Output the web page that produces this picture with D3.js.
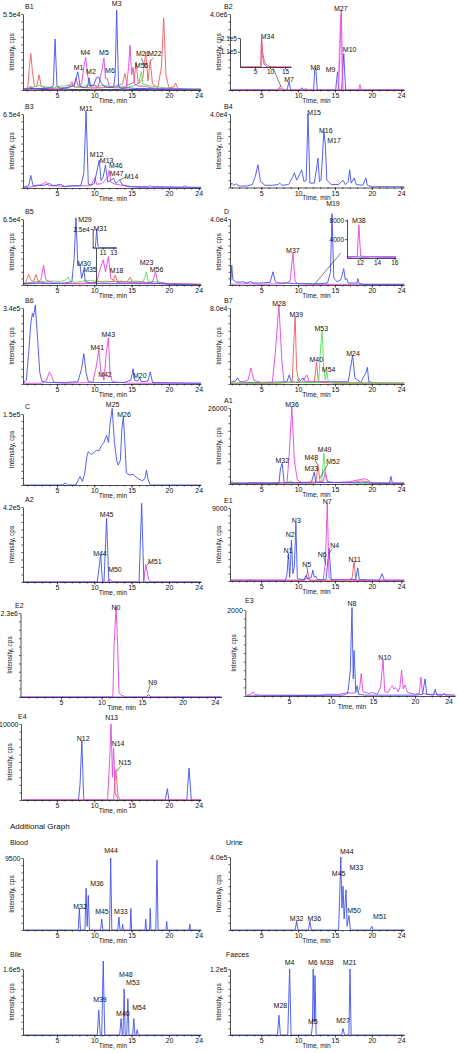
<!DOCTYPE html>
<html><head><meta charset="utf-8">
<script src="https://cdn.jsdelivr.net/npm/d3@7"></script>
<style>body{margin:0;background:#fff}svg text{font-family:Arial,"Liberation Sans",sans-serif;fill:#111}</style>
</head><body><svg id="c" width="458" height="1053"></svg>
<script>
// ---------------- DATA (time in min, intensity in % of the top tick) ----------------
const xTickLabels = [5,10,15,20,24];
const yTopLabels = {B1:"5.5e4",B2:"4.0e6",B3:"6.5e4",B4:"4.0e4",B5:"6.5e4",D:"4.0e4",B6:"3.4e5",B7:"8.0e4",C:"1.5e5",A1:"26000",A2:"4.2e5",E1:"9000",E2:"2.3e6",E3:"2000",E4:"10000",Blood:"9500",Urine:"4.0e5",Bile:"1.6e5",Faeces:"1.2e5"};

const B1_red=[[0.5,1],[1.1,3],[1.3,30],[1.5,48],[1.7,25],[2.0,4],[2.3,5],[2.6,20],[2.9,5],[3.5,2],[6.3,3],[6.8,8],[7.0,11],[7.3,4],[9,3],[10,3],[11,3],[12.5,4],[13.8,8],[14.1,22],[14.4,6],[15.3,10],[15.6,37],[15.9,8],[16.5,15],[16.9,50],[17.2,12],[17.5,39],[17.8,8],[18.5,3],[19.0,30],[19.3,95],[19.6,20],[20.0,3],[20.7,4],[20.9,9],[21.2,2],[22,1],[24.3,1]];
const B1_green=[[0.5,1],[1.5,3],[2.5,6],[3.5,4],[4.5,3],[5.5,5],[6.5,6],[7.5,4],[8.5,5],[9.5,7],[10.5,5],[11.5,6],[12.5,4],[13.5,5],[14.5,4],[15.5,6],[16.0,10],[16.3,24],[16.5,8],[17.5,5],[18.5,4],[19.5,3],[21,2],[24.3,1]];
const B1_mag=[[0.5,0],[2,1],[3,2],[5,1],[6.5,3],[7.0,8],[7.3,5],[7.55,16],[7.8,6],[8.3,8],[8.6,30],[8.85,43],[9.1,20],[9.4,5],[10,6],[10.5,3],[11.0,25],[11.3,42],[11.5,15],[11.75,15],[12.0,5],[12.5,3],[13.5,3],[14.3,3],[14.6,30],[14.8,59],[15.0,20],[15.2,30],[15.4,8],[16,5],[16.8,5],[17.5,3],[18.5,2],[20,2],[24.3,0]];
const B1_blue=[[0.5,1],[1.2,2],[1.5,5],[1.8,2],[3,2],[4,3],[4.5,5],[4.75,67],[5.0,5],[5.5,2],[6.5,3],[7.3,6],[7.8,24],[8.1,5],[8.6,3],[9.1,4],[9.3,16],[9.5,5],[9.9,6],[10.3,16],[10.6,17],[10.9,10],[11.3,5],[12.0,3],[12.6,4],[12.8,20],[13.0,105],[13.25,5],[13.6,2],[14.5,3],[15.5,2],[17,2],[19,1],[24.3,1]];
const B1_dark=[[0.5,0],[1.5,2],[2.5,1],[4,0.5],[6,1],[8,0.5],[10,1],[12,0.5],[14,1],[16,0.5],[18,1],[20,0.3],[24.3,0]];
const B1_labels=[["M3",13.0,114],["M4",8.8,49.6],["M5",11.3,49],["M1",7.9,30],["M2",9.55,24],["M6",12.1,26],["M21",16.5,47.4],["M22",18.1,47.4],["M55",16.35,31.6]];
const B1_leaders=[[16.3,42,16.85,30],[17.9,42,17.5,38]];

const B2_red=[[0.8,0],[7.2,0],[7.6,5],[8.0,1],[8.4,0],[24.4,0]];
const B2_blue=[[0.8,0],[7.3,0],[7.6,2],[7.9,0],[8.5,0],[8.77,11],[9.0,0],[10.3,0],[10.5,3],[10.8,0],[11.0,2],[11.3,0],[12.1,0],[12.25,25],[12.4,29],[12.6,0],[15.1,0],[15.35,24],[15.55,0],[15.9,0],[16.2,48],[16.45,0],[24.4,0]];
const B2_pink=[[15.4,0],[15.75,100],[16.0,0]];
const B2_mag=[[0.8,0],[15.5,0],[15.86,105],[16.1,0],[18.2,0],[18.4,7],[18.6,0],[24.4,0]];
const B2_labels=[["M27",15.8,107],["M10",17.0,53],["M9",14.4,27],["M8",12.33,30],["M7",8.77,14]];
const B2_in_red=[[0,0],[6.9,0],[7.1,80],[7.2,100],[7.5,55],[8,25],[8.5,10],[9.5,2],[11,0],[17,0]];
const B2_in_mag=[[0,0],[7.0,0],[7.2,95],[7.45,40],[8,10],[9,0],[17,0]];

const B3_blue=[[0.5,1],[1.2,3],[1.5,17],[1.8,3],[2.5,4],[3,3],[4,6],[4.5,3],[5.5,5],[6,2],[7,3],[8.2,3],[8.6,20],[8.9,104],[9.2,5],[9.6,4],[10.0,6],[10.4,25],[10.67,38],[10.9,10],[11.2,15],[11.5,31],[11.8,8],[12.1,10],[12.6,13],[12.9,6],[13.4,11],[13.8,4],[14.5,2],[16,1],[24.3,1]];
const B3_mag=[[0.5,0],[2.5,3],[3.2,6],[3.5,8.5],[3.9,3],[5,3],[6,2],[7.5,3],[9.5,3],[9.9,10],[10.1,14],[10.3,5],[11.0,6],[11.8,14],[12.0,24],[12.2,8],[12.8,5],[13.5,4],[15,2],[17.3,2],[17.5,4],[17.7,2],[21.8,1],[22.1,3],[22.4,1],[24.3,0]];
const B3_labels=[["M11",8.9,108],["M12",10.32,45.5],["M13",11.66,36.5],["M46",12.9,30],["M47",13.0,19],["M14",15.0,15.3]];
const B3_leaders=[[14.25,15,13.44,11]];

const B4_blue=[[0.8,2],[1.0,6],[1.3,3],[1.6,5],[2.0,2],[3,2],[3.8,4],[4.2,15],[4.55,31],[4.9,8],[5.5,3],[6.5,3],[7.3,4],[7.5,6],[7.8,3],[8.7,4],[9.3,15],[9.5,20],[9.8,10],[10.2,18],[10.5,24],[10.8,8],[11.1,10],[11.34,100],[11.6,6],[12.2,6],[12.5,25],[12.7,40],[12.9,8],[13.1,10],[13.3,40],[13.5,76],[13.7,58],[13.9,10],[14.5,4],[15.5,4],[16.1,10],[16.4,4],[16.8,8],[17.0,24],[17.2,6],[17.6,13],[17.9,4],[18.8,3],[19.2,13],[19.4,3],[20,1],[24.4,1]];
const B4_labels=[["M15",12.16,102],["M16",13.75,78],["M17",14.87,64]];

const B5_green=[[0.5,3],[1.5,4],[2.5,6],[3.5,5],[4.5,6],[5.5,5],[6.2,8],[6.5,12],[6.8,5],[7.5,4],[8.5,6],[9.5,7],[10.5,5],[11.5,6],[12.5,5],[13.5,6],[14.5,5],[15.5,6],[16.5,5],[16.8,12],[17.0,20],[17.2,6],[18,5],[19,4],[20,2],[24.3,1]];
const B5_red=[[0.5,1],[0.9,6],[1.2,16],[1.5,8],[1.8,5],[2.2,16],[2.5,5],[3.5,3],[6,2],[9.8,3],[10.5,6],[11,4],[12.5,5],[12.8,15],[13.1,5],[14.4,5],[14.8,12],[15.1,4],[16.5,5],[17.3,3],[19,2],[24.3,1]];
const B5_mag=[[0.5,1],[2.5,3],[2.9,10],[3.2,30],[3.5,8],[4.5,3],[6,2],[9,2],[10.3,4],[10.8,25],[11.2,38],[11.5,20],[11.9,43],[12.2,10],[13,4],[14,3],[15,4],[16,3],[17.8,4],[18.2,20],[18.5,4],[20,2],[24.3,1]];
const B5_blue=[[0.5,2],[2,3],[4,2],[6,3],[7.0,5],[7.3,40],[7.55,102],[7.8,30],[8.1,30],[8.3,10],[8.6,23],[8.8,5],[9.5,3],[11,2],[14,2],[17,2],[19,2],[20,1],[24.3,0]];
const B5_labels=[["M29",8.75,99.5],["M30",8.62,32],["M35",9.42,24],["M18",13.0,22],["M23",17.0,34],["M56",18.35,24]];
const B5_in_blue=[[9.1,0],[9.6,0],[9.87,100],[10.1,5],[10.4,0],[13.6,0]];

const D_mag=[[0.8,1],[3,2],[5,1],[8,2],[8.9,5],[9.3,48],[9.6,5],[10,2],[12,1],[16,1],[24.4,1]];
const D_blue=[[0.8,3],[0.9,10],[1.0,30],[1.15,8],[1.5,5],[2,4],[2.5,5],[3,3],[3.5,5],[4,3],[5,3],[6.2,4],[6.6,20],[6.9,5],[7.5,3],[8.5,3],[9.5,2],[10.5,2],[12,2],[13,2],[14,3],[14.4,20],[14.6,108],[14.85,10],[15.3,5],[15.8,8],[16.2,25],[16.4,8],[16.6,10],[16.8,3],[17.5,3],[18.0,3],[18.1,10],[18.3,2],[19,1],[24.4,1]];
const D_labels=[["M19",14.73,123],["M37",9.3,52]];
const D_in_blue=[[10.5,150],[11.5,250],[12.5,150],[13.5,250],[14.5,150],[16.2,150]];
const D_in_mag=[[10.5,300],[11.7,300],[11.9,7000],[12.1,400],[13,300],[16.2,300]];

const B6_mag=[[0.5,1],[3,1],[3.6,5],[4.0,16],[4.3,10],[4.6,2],[6,1],[9.8,2],[10.3,25],[10.6,45],[10.9,15],[11.1,12],[11.3,5],[11.6,40],[11.9,61],[12.1,15],[12.4,3],[13.5,2],[15,1],[24.3,1]];
const B6_blue=[[0.5,2],[0.9,5],[1.2,40],[1.5,80],[1.7,93],[1.85,88],[2.1,104],[2.4,60],[2.7,15],[3.0,3],[4,2],[6,2],[7.8,3],[8.3,20],[8.6,40],[8.9,15],[9.2,3],[10,2],[14,2],[14.9,5],[15.2,20],[15.4,5],[15.8,4],[16.1,8],[16.3,3],[17.2,4],[17.5,16],[17.8,2],[24.3,1]];
const B6_labels=[["M41",10.4,48],["M43",11.87,65],["M42",11.43,12],["M20",16.1,11]];

const B7_blue=[[0.8,2],[1.5,4],[1.8,8],[2.1,3],[3,2],[5,2],[8.5,3],[8.8,12],[9.1,3],[10,2],[10.7,8],[11.0,3],[16.8,3],[17.1,20],[17.4,38],[17.7,8],[18.5,2],[19.2,15],[19.4,22],[19.6,3],[20.5,1],[24.4,1]];
const B7_mag=[[0.8,1],[2,1],[3.2,5],[3.6,21],[4.0,5],[5,2],[6.5,2],[6.9,40],[7.4,104],[7.8,30],[8.1,2],[9,2],[10.5,2],[11.2,12],[11.5,3],[13,2],[16,1],[24.4,1]];
const B7_red=[[0.8,1],[6,1],[7.5,1],[9.2,3],[9.45,60],[9.6,89],[9.8,20],[10.1,2],[12.2,3],[12.5,29],[12.75,3],[14,2],[24.4,1]];
const B7_green=[[0.8,1],[6,1],[9.8,2],[10.1,8],[10.4,2],[12.8,2],[13.0,40],[13.25,71],[13.5,20],[13.7,5],[13.9,16],[14.1,3],[15,1],[24.4,1]];
const B7_labels=[["M28",7.41,106],["M39",9.76,91],["M53",13.15,73],["M40",12.47,32.5],["M54",14.15,19.5],["M24",17.45,40.5]];

const C_blue=[[0.45,0],[5.8,0],[6.1,3],[6.4,0],[7.5,0],[7.9,8],[8.1,12],[8.4,5],[8.7,15],[9.0,40],[9.2,47],[9.6,43],[10.0,46],[10.3,49],[10.6,48],[11.0,56],[11.3,60],[11.65,70],[11.9,60],[12.1,85],[12.4,108],[12.7,60],[13.0,35],[13.2,28],[13.5,35],[13.7,80],[13.9,96],[14.1,60],[14.3,17],[14.7,14],[15.2,15],[15.6,11],[16.0,8],[16.5,6],[16.8,10],[17.0,21],[17.2,8],[17.5,0],[24.3,0]];
const C_labels=[["M25",12.46,113],["M26",13.98,99]];

const A1_green=[[0.8,2],[1,4],[1.2,1],[8.6,2],[9,4],[9.3,2],[13.2,2],[13.5,40],[13.8,5],[14.5,2],[17,2],[24.4,1]];
const A1_red=[[0.8,1],[12.4,1],[12.7,25],[13.0,2],[17.5,2],[18.5,4],[19.5,3],[20,1],[24.4,1]];
const A1_mag=[[0.8,1],[3,1],[4,2],[6,1],[8.5,2],[8.8,40],[9.15,102],[9.5,30],[9.9,5],[10.5,2],[13.4,3],[13.7,16],[14.0,3],[15,2],[17,3],[18,5],[19,7],[19.5,5],[20,1],[24.4,1]];
const A1_blue=[[0.8,1],[7.4,1],[7.6,20],[7.85,27],[8.1,2],[11.8,2],[12.2,16],[12.4,2],[22.4,1],[22.6,10],[22.8,1],[24.4,1]];
const A1_labels=[["M36",9.17,105],["M32",7.86,30.5],["M48",11.79,35],["M49",13.6,44.7],["M33",11.79,20.7],["M52",14.74,29.3]];
const A1_leaders=[[12.3,31.6,12.7,25],[14.06,26.3,12.97,8]];

const A2_blue=[[0.45,0],[10.4,0],[10.85,36],[11.1,0],[11.3,0],[11.65,85],[11.95,0],[16.0,0],[16.35,105],[16.65,0],[24.3,0]];
const A2_mag=[[0.45,0],[11.8,0],[12.1,4],[12.5,0],[16.6,0],[16.9,23],[17.3,3],[17.6,0],[24.3,0]];
const A2_labels=[["M45",11.66,89.5],["M44",10.76,38.5],["M50",12.77,16],["M51",18.1,27]];
const A2_leaders=[[17.5,26.7,16.95,22]];

const E1_red=[[0.8,1],[11.0,1],[11.3,13],[11.6,1],[17.3,1],[17.6,27],[17.85,1],[24.4,1]];
const E1_blue=[[0.8,1],[8.3,1],[8.5,10],[8.7,38],[8.85,5],[8.95,20],[9.1,56],[9.3,10],[9.5,20],[9.7,79],[9.9,3],[10.8,2],[11.1,8],[11.3,3],[11.8,5],[12.0,15],[12.2,5],[12.4,7],[12.6,2],[13.8,2],[14.2,45],[14.5,2],[17.8,2],[18.1,18],[18.3,2],[21.0,1],[21.4,10],[21.7,1],[24.4,1]];
const E1_mag=[[0.8,1],[3.3,1],[3.5,2],[3.7,1],[10.8,1],[11.2,5],[11.4,1],[13.4,1],[13.7,24],[13.96,106],[14.2,5],[14.5,1],[17.0,2],[17.2,4],[17.4,1],[24.4,1]];
const E1_labels=[["N1",8.63,41.5],["N2",8.94,64],["N3",9.76,82.6],["N7",13.96,109],["N4",14.97,48],["N6",13.28,36.6],["N5",11.17,23],["N11",17.68,30]];
const E1_leaders=[[8.6,36,8.7,30],[14.6,44,14.25,38],[13.5,33,13.75,22],[11.2,19,11.3,12]];

const E2_blue=[[0,0],[15.5,0],[15.8,3],[16.1,0],[24.8,0]];
const E2_mag=[[0,0],[11.4,0],[11.55,60],[11.8,108],[12.0,60],[12.15,5],[12.5,2],[13,0],[24.8,0]];
const E2_labels=[["N0",11.79,107],["N9",16.32,17.5]];
const E2_leaders=[[16.0,14,15.7,5]];

const E3_mag=[[0,1],[0.5,2],[0.7,5],[0.9,2],[1.5,1],[5,1],[9,1],[9.5,2],[11,2],[12.0,4],[12.5,3],[13.0,4],[13.4,8],[13.6,26],[13.8,5],[14.5,3],[15.0,4],[15.5,2],[15.9,10],[16.2,42],[16.4,5],[16.8,4],[17.1,10],[17.3,12],[17.5,8],[17.7,10],[18.0,5],[18.2,10],[18.4,30],[18.6,8],[18.8,13],[19.1,4],[20,2],[20.5,3],[20.7,22],[20.9,3],[21.5,2],[22.5,2],[23.5,2],[24.8,1]];
const E3_blue=[[0,0],[11.5,1],[12.0,3],[12.3,30],[12.5,103],[12.65,20],[12.75,53],[12.95,5],[13.1,12],[13.3,2],[14,1],[20,1],[20.9,2],[21.2,20],[21.4,2],[22.2,1],[22.4,8],[22.6,1],[23.3,1],[23.5,3],[23.7,0],[24.8,0]];
const E3_labels=[["N8",12.5,107],["N10",16.4,45]];

const E4_blue=[[0.45,0],[7.9,0],[8.1,20],[8.35,78],[8.6,0],[19.5,0],[19.8,15],[20.0,0],[22.4,0],[22.7,42],[23.0,0],[24.3,0]];
const E4_red=[[0.45,0],[12.6,0],[12.9,40],[13.2,5],[13.5,0],[24.3,0]];
const E4_mag=[[0.45,0],[11.8,0],[12.1,60],[12.25,100],[12.45,30],[12.6,68],[12.8,10],[13.2,0],[24.3,0]];
const E4_labels=[["N12",8.53,81],["N13",12.33,109],["N14",13.2,74],["N15",14.1,49]];
const E4_leaders=[[13.6,45,13.0,38]];

const Blood_blue=[[0.45,0],[7.85,0],[8.0,30],[8.15,0],[8.75,0],[8.9,58],[9.05,5],[9.2,48],[9.35,0],[10.85,0],[11.0,15],[11.15,0],[12.05,0],[12.2,100],[12.35,0],[13.15,0],[13.3,18],[13.45,0],[13.7,0],[13.8,8],[13.9,0],[14.8,0],[14.9,30],[15.0,0],[16.8,0],[16.9,15],[17.0,0],[17.4,0],[17.5,30],[17.6,0],[18.25,0],[18.4,97],[18.55,0],[19.6,0],[19.7,12],[19.8,0],[22.7,0],[22.8,8],[22.9,0],[24.3,0]];
const Blood_labels=[["M44",12.24,110],["M36",10.36,64],["M32",8.09,33],["M45",11.03,26],["M33",13.57,26]];
const Urine_blue=[[0.76,0],[9.6,0],[9.8,12],[10.0,0],[11.4,0],[11.6,12],[11.8,0],[15.5,0],[15.8,100],[15.95,30],[16.1,60],[16.25,15],[16.5,55],[16.65,5],[16.9,20],[17.1,0],[19.8,0],[20.0,5],[20.2,0],[24.4,0]];
const Urine_labels=[["M44",16.6,108],["M45",15.5,78],["M33",17.9,86],["M32",9.8,16],["M36",12.2,16],["M50",17.6,26],["M51",21.1,18]];
const Bile_blue=[[0.45,0],[10.4,0],[10.6,38],[10.8,0],[11.0,0],[11.2,112],[11.4,0],[13.4,0],[13.6,25],[13.75,0],[13.85,0],[14.0,70],[14.15,0],[14.35,0],[14.5,55],[14.65,0],[15.15,0],[15.3,25],[15.45,0],[15.6,0],[15.75,8],[15.9,0],[24.3,0]];
const Bile_labels=[["M39",10.76,53],["M48",14.24,91],["M53",15.18,80],["M40",13.84,33],["M54",16.0,41]];
const Faeces_blue=[[0.76,0],[7.2,0],[7.4,30],[7.6,0],[8.6,0],[8.85,100],[9.05,0],[11.8,0],[11.95,15],[12.05,100],[12.2,20],[12.3,90],[12.45,0],[15.9,0],[16.1,10],[16.3,0],[16.9,0],[17.05,100],[17.2,0],[24.4,0]];
const Faeces_labels=[["M4",8.85,110],["M6",12.0,110],["M38",13.9,110],["M5",12.0,20],["M28",7.6,45],["M21",17.0,110],["M27",16.1,22]];

// ---------------- LAYOUT ----------------
const COL={blue:"#4051ee",mag:"#e143e1",red:"#f05a5a",green:"#55e055",pink:"#f3a3f3",dark:"#23235a"};
const LX={L:23,R:201,t0:0.45,t1:24.3}, RX={L:230,R:404.2,t0:0.76,t1:24.4};
const panels=[
 {id:"B1",...LX,T:14,B:90,tr:[["dark",B1_dark],["red",B1_red],["green",B1_green],["mag",B1_mag],["blue",B1_blue]],lab:B1_labels,lead:B1_leaders},
 {id:"B2",...RX,T:14,B:90,tr:[["red",B2_red],["blue",B2_blue],["pink",B2_pink],["mag",B2_mag]],lab:B2_labels},
 {id:"B3",...LX,T:114,B:188,tr:[["mag",B3_mag],["blue",B3_blue]],lab:B3_labels,lead:B3_leaders},
 {id:"B4",...RX,T:114,B:187.5,tr:[["blue",B4_blue]],lab:B4_labels},
 {id:"B5",...LX,T:219,B:285,tr:[["green",B5_green],["red",B5_red],["mag",B5_mag],["blue",B5_blue]],lab:B5_labels},
 {id:"D",...RX,T:219,B:285,tr:[["mag",D_mag],["blue",D_blue]],lab:D_labels},
 {id:"B6",...LX,T:308,B:384,tr:[["mag",B6_mag],["blue",B6_blue]],lab:B6_labels},
 {id:"B7",...RX,T:308,B:384,tr:[["blue",B7_blue],["mag",B7_mag],["red",B7_red],["green",B7_green]],lab:B7_labels},
 {id:"C",...LX,T:414,B:485,tr:[["blue",C_blue]],lab:C_labels},
 {id:"A1",...RX,T:408,B:484,tr:[["green",A1_green],["red",A1_red],["mag",A1_mag],["blue",A1_blue]],lab:A1_labels,lead:A1_leaders},
 {id:"A2",...LX,T:507,B:582,tr:[["mag",A2_mag],["blue",A2_blue]],lab:A2_labels,lead:A2_leaders},
 {id:"E1",...RX,T:508,B:581,tr:[["red",E1_red],["blue",E1_blue],["mag",E1_mag]],lab:E1_labels,lead:E1_leaders},
 {id:"E2",L:20.5,R:221.4,t0:0,t1:24.8,T:613,B:697,tr:[["blue",E2_blue],["mag",E2_mag]],lab:E2_labels,lead:E2_leaders,titleX:15},
 {id:"E3",L:245.3,R:455,t0:-0.2,t1:24.76,T:610,B:696,tr:[["mag",E3_mag],["blue",E3_blue]],lab:E3_labels,titleX:245,titleY:601},
 {id:"E4",L:21,R:201,t0:0.2,t1:24.3,T:724,B:800,tr:[["blue",E4_blue],["red",E4_red],["mag",E4_mag]],lab:E4_labels,lead:E4_leaders,titleX:18},
 {id:"Blood",...LX,T:858,B:930,tr:[["blue",Blood_blue]],lab:Blood_labels,titleX:10,titleY:843},
 {id:"Urine",...RX,T:857,B:930,tr:[["blue",Urine_blue]],lab:Urine_labels,titleX:226,titleY:843},
 {id:"Bile",...LX,T:969,B:1035,tr:[["blue",Bile_blue]],lab:Bile_labels,titleX:10,titleY:955},
 {id:"Faeces",...RX,T:969,B:1035,tr:[["blue",Faeces_blue]],lab:Faeces_labels,titleX:226,titleY:955}
];

const svg=d3.select("#c");
const FS=7;

function drawPanel(p){
  const g=svg.append("g");
  const x=d3.scaleLinear([p.t0,p.t1],[p.L,p.R]);
  const y=d3.scaleLinear([0,100],[p.B,p.T]);
  p.x=x;p.y=y;
  const line=d3.line().x(d=>x(d[0])).y(d=>y(d[1]));
  p.tr.forEach(([c,d])=>g.append("path").attr("d",line(d)).attr("fill","none").attr("stroke",COL[c]).attr("stroke-width",0.9).attr("stroke-linejoin","round"));
  const ax=g.append("g").attr("transform",`translate(0,${p.B})`);
  ax.call(d3.axisBottom(x).tickValues(d3.range(1,25)).tickSize(1.5).tickSizeOuter(0).tickFormat(""));
  const ax2=g.append("g").attr("transform",`translate(0,${p.B})`);
  ax2.call(d3.axisBottom(x).tickValues(xTickLabels).tickSize(2.5).tickPadding(1).tickSizeOuter(0).tickFormat(d3.format("d")));
  ax2.select(".domain").remove();
  const ay=g.append("g").attr("transform",`translate(${p.L},0)`);
  ay.call(d3.axisLeft(y).tickValues(d3.range(0,101,10)).tickSize(1.5).tickSizeOuter(0).tickFormat(d=>d===100?yTopLabels[p.id]:"").tickPadding(1));
  [ax,ax2,ay].forEach(a=>{a.selectAll("path,line").attr("stroke","#222").attr("stroke-width",0.8);a.selectAll("text").attr("font-size",FS).attr("fill","#111").attr("font-family","Arial, Liberation Sans, sans-serif");});
  g.append("text").attr("x",x(12.5)).attr("y",p.B+12.5).attr("text-anchor","middle").attr("font-size",6.5).text("Time, min");
  g.append("text").attr("transform",`translate(${p.L-9},${(p.T+p.B)/2}) rotate(-90)`).attr("text-anchor","middle").attr("font-size",6.5).text("Intensity, cps");
  g.append("text").attr("x",p.titleX!==undefined?p.titleX:(p.L<100?25:224)).attr("y",p.titleY!==undefined?p.titleY:p.T-7).attr("font-size",FS).attr("dy","0.35em").text(p.id);
  (p.lead||[]).forEach(l=>g.append("line").attr("x1",x(l[0])).attr("y1",y(l[1])).attr("x2",x(l[2])).attr("y2",y(l[3])).attr("stroke","#222").attr("stroke-width",0.6));
  (p.lab||[]).forEach(([n,t,v])=>g.append("text").attr("x",x(t)).attr("y",y(v)).attr("text-anchor","middle").attr("dy","0.35em").attr("font-size",FS).text(n));
  return g;
}
panels.forEach(drawPanel);

function inset(o){
  const g=svg.append("g");
  const x=d3.scaleLinear(o.xd,o.xr), y=d3.scaleLinear(o.yd,o.yr);
  const line=d3.line().x(d=>x(d[0])).y(d=>y(d[1]));
  o.tr.forEach(([c,d])=>g.append("path").attr("d",line(d)).attr("fill","none").attr("stroke",COL[c]).attr("stroke-width",0.9));
  const ax=g.append("g").attr("transform",`translate(0,${o.yr[0]})`).call(d3.axisBottom(x).tickValues(o.xt).tickFormat(d3.format("d")).tickSize(2).tickPadding(0.5).tickSizeOuter(0));
  const ay=g.append("g").attr("transform",`translate(${o.xr[0]},0)`).call(d3.axisLeft(y).tickValues(o.yt).tickFormat(o.yf).tickSize(2).tickPadding(1).tickSizeOuter(0));
  [ax,ay].forEach(a=>{a.selectAll("path,line").attr("stroke","#222").attr("stroke-width",0.8);a.selectAll("text").attr("font-size",6.5).attr("fill","#111");});
  (o.lab||[]).forEach(([n,t,v])=>g.append("text").attr("x",x(t)).attr("y",y(v)).attr("text-anchor","middle").attr("dy","0.35em").attr("font-size",FS).text(n));
  return {x,y,g};
}
const P=Object.fromEntries(panels.map(p=>[p.id,p]));
const i2=inset({xd:[0,17],xr:[240,291],yd:[0,100],yr:[67,38],xt:[5,10,15],yt:[52.4,100],yf:d=>d===100?"2.1e5":"1.1e5",tr:[["mag",B2_in_mag],["red",B2_in_red]],lab:[["M34",9.2,106]]});
svg.append("line").attr("x1",i2.x(11)).attr("y1",i2.y(-4)).attr("x2",P.B2.x(7.7)).attr("y2",P.B2.y(4)).attr("stroke","#222").attr("stroke-width",0.6);
const i5=inset({xd:[9.11,13.6],xr:[92.7,116.5],yd:[0,100],yr:[247.7,229],xt:[11,13],yt:[100],yf:()=>"2.5e4",tr:[["blue",B5_in_blue]],lab:[["M31",10.55,103]]});
svg.append("line").attr("x1",P.B5.x(10.3)).attr("y1",P.B5.y(0)).attr("x2",P.B5.x(10.3)).attr("y2",247.7).attr("stroke","#222").attr("stroke-width",0.8);
const iD=inset({xd:[10.52,16.2],xr:[347,396],yd:[0,8300],yr:[258,219],xt:[12,14,16],yt:[4000,8000],yf:d3.format("d"),tr:[["blue",D_in_blue],["mag",D_in_mag]],lab:[["M38",11.9,7900]]});
svg.append("line").attr("x1",P.D.x(12.33)).attr("y1",P.D.y(2.6)).attr("x2",P.D.x(15.78)).attr("y2",P.D.y(48)).attr("stroke","#222").attr("stroke-width",0.6);

svg.append("text").attr("x",10).attr("y",826).attr("dy","0.35em").attr("font-size",8).text("Additional Graph");
</script></body></html>
